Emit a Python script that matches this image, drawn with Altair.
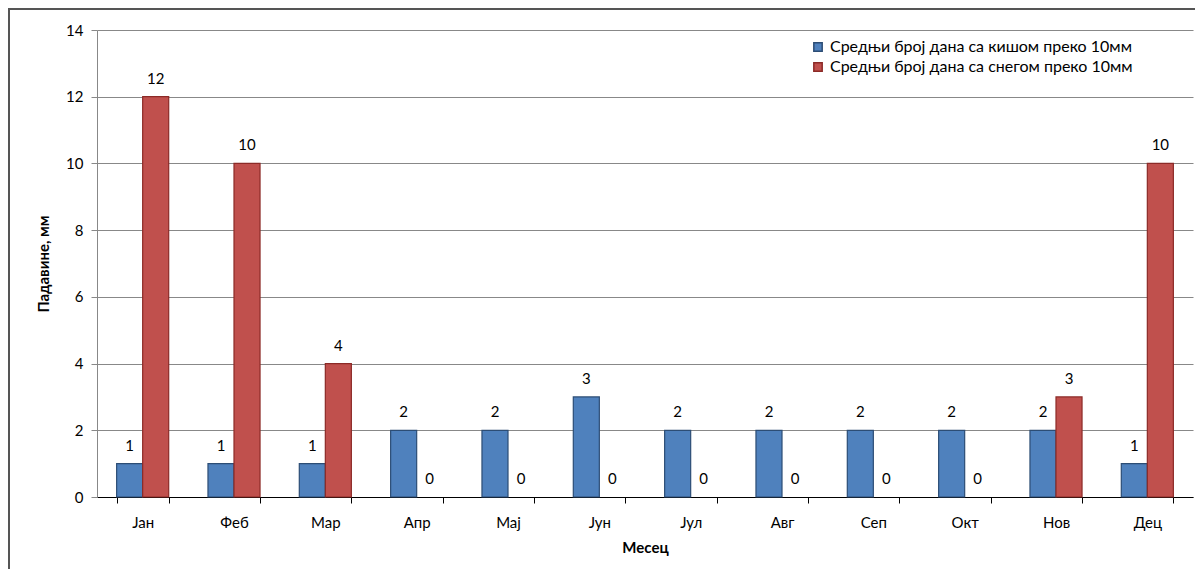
import altair as alt
import pandas as pd

months = ["Јан", "Феб", "Мар", "Апр", "Мај", "Јун", "Јул", "Авг", "Сеп", "Окт", "Нов", "Дец"]
rain = [1, 1, 1, 2, 2, 3, 2, 2, 2, 2, 2, 1]
snow = [12, 10, 4, 0, 0, 0, 0, 0, 0, 0, 3, 10]
series_names = ["Средњи број дана са кишом преко 10мм", "Средњи број дана са снегом преко 10мм"]
fills = ["#4F81BD", "#C0504D"]
strokes = ["#2C4D75", "#8C2A27"]

rows = []
for i, m in enumerate(months):
    rows.append({"month": m, "series": series_names[0], "value": rain[i]})
    rows.append({"month": m, "series": series_names[1], "value": snow[i]})
df = pd.DataFrame(rows)

FONT = "Lato"

x_enc = alt.X("month:N", sort=months, title="Месец",
              scale=alt.Scale(paddingInner=0.43, paddingOuter=0.215),
              axis=alt.Axis(labelAngle=0, labelFontSize=15, labelColor="#000", labelPadding=12,
                            titleFontSize=15, titleFontWeight="bold", titleColor="#000", titlePadding=10,
                            domainColor="#000", tickColor="#000", tickSize=6, tickBand="extent",
                            grid=False))
xo = alt.XOffset("series:N", sort=series_names)

bars = alt.Chart(df).mark_bar(strokeWidth=1.2).encode(
    x=x_enc,
    xOffset=xo,
    y=alt.Y("value:Q", title="Падавине, мм",
            scale=alt.Scale(domain=[0, 14]),
            axis=alt.Axis(values=[0, 2, 4, 6, 8, 10, 12, 14], labelFontSize=15, labelColor="#000",
                          labelPadding=8, titleFontSize=15, titleFontWeight="bold", titleColor="#000",
                          titlePadding=14, domainColor="#888", tickColor="#888", tickSize=6,
                          gridColor="#888", gridWidth=1)),
    color=alt.Color("series:N", sort=series_names,
                    scale=alt.Scale(domain=series_names, range=fills),
                    legend=alt.Legend(title=None, orient="none", legendX=713, legendY=9,
                                      symbolType="square", symbolSize=70, symbolStrokeWidth=1.5,
                                      labelFontSize=16, labelColor="#000", labelFont=FONT,
                                      rowPadding=4, labelLimit=500)),
    stroke=alt.Stroke("series:N", sort=series_names,
                      scale=alt.Scale(domain=series_names, range=strokes), legend=None),
    strokeOpacity=alt.condition("datum.value == 0", alt.value(0), alt.value(1)),
)

labels = alt.Chart(df).mark_text(dy=-10, baseline="bottom", fontSize=15, font=FONT, color="#000").encode(
    x=alt.X("month:N", sort=months),
    xOffset=xo,
    y="value:Q",
    text="value:Q",
)

frame = alt.Chart(df).mark_rect(fill=None, stroke="#555", strokeWidth=1.5).encode(
    x=alt.value(-88), x2=alt.value(1100), y=alt.value(-21), y2=alt.value(560)
)

chart = alt.layer(bars, labels, frame).properties(
    width=1096, height=467,
    autosize=alt.AutoSizeParams(type="none"),
    padding={"left": 89, "top": 22, "right": 2, "bottom": 72},
).configure(font=FONT).configure_view(stroke=None).configure_axis(labelFont=FONT, titleFont=FONT)

chart.save("out.html", embed_options={"renderer": "svg", "actions": False})
